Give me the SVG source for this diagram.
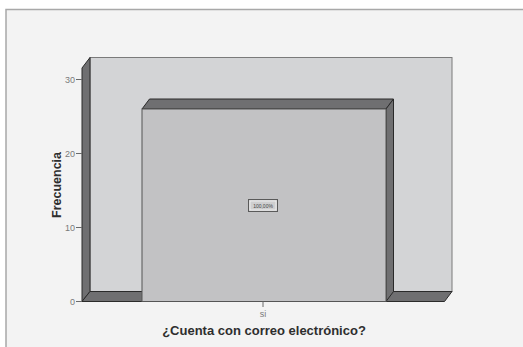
<svg xmlns="http://www.w3.org/2000/svg" width="523" height="347" viewBox="0 0 523 347">
<style>
.side{fill:#6f6f71;stroke:#2a2a2a;stroke-width:1;stroke-linejoin:round}
.tick{stroke:#6a6a6a;stroke-width:1}
.tl{font-family:"Liberation Sans",Arial,sans-serif;font-size:9px;fill:#7a7a7a}
.title{font-family:"Liberation Sans",Arial,sans-serif;font-weight:bold;fill:#2e2e2e}
</style>
<rect x="0" y="0" width="523" height="347" fill="#ffffff"/>
<rect x="6" y="9.5" width="530" height="345" fill="#f3f3f3" stroke="#a8a8a8" stroke-width="1.5"/>
<g id="chart-walls">
<rect x="90" y="57.5" width="362" height="234" fill="#d3d4d6" stroke="#7a7a7a" stroke-width="1"/>
<polygon class="side" points="82,68 90,57.5 90,291.5 82,301.5"/>
<polygon class="side" points="82,301.5 90,291.5 452,291.5 444.5,301.5"/>
</g>
<g id="bar-si">
<polygon class="side" points="142,109 149.5,99 393.5,99 386,109"/>
<polygon class="side" points="386,109 393.5,99 393.5,291.5 386,301.5"/>
<rect x="142" y="109" width="244" height="192.5" fill="#c2c2c4" stroke="#555" stroke-width="1"/>
</g>
<g id="bar-label">
<rect x="248.5" y="199.5" width="29" height="12" fill="#cfcfd0" stroke="#5a5a5a" stroke-width="1"/>
<rect x="250" y="201" width="26" height="9" fill="none" stroke="#f2f2f2" stroke-width="0.8"/>
<text x="263" y="207.8" text-anchor="middle" font-family="Liberation Sans, Arial, sans-serif" font-size="5px" fill="#444">100,00%</text>
</g>
<g id="y-axis">
<line class="tick" x1="76" y1="301.5" x2="82" y2="301.5"/>
<line class="tick" x1="76" y1="227.5" x2="82" y2="227.5"/>
<line class="tick" x1="76" y1="153.5" x2="82" y2="153.5"/>
<line class="tick" x1="76" y1="79.5" x2="82" y2="79.5"/>
<text class="tl" x="75" y="304.5" text-anchor="end">0</text>
<text class="tl" x="75" y="230.5" text-anchor="end">10</text>
<text class="tl" x="75" y="156.5" text-anchor="end">20</text>
<text class="tl" x="75" y="82.5" text-anchor="end">30</text>
<text class="title" font-size="12.5px" transform="translate(61,185) rotate(-90)" text-anchor="middle">Frecuencia</text>
</g>
<g id="x-axis">
<line class="tick" x1="263" y1="301.5" x2="263" y2="307"/>
<text class="tl" x="263" y="317" text-anchor="middle" font-size="8px">si</text>
<text class="title" font-size="13px" x="264" y="335" text-anchor="middle">¿Cuenta con correo electrónico?</text>
</g>
</svg>
